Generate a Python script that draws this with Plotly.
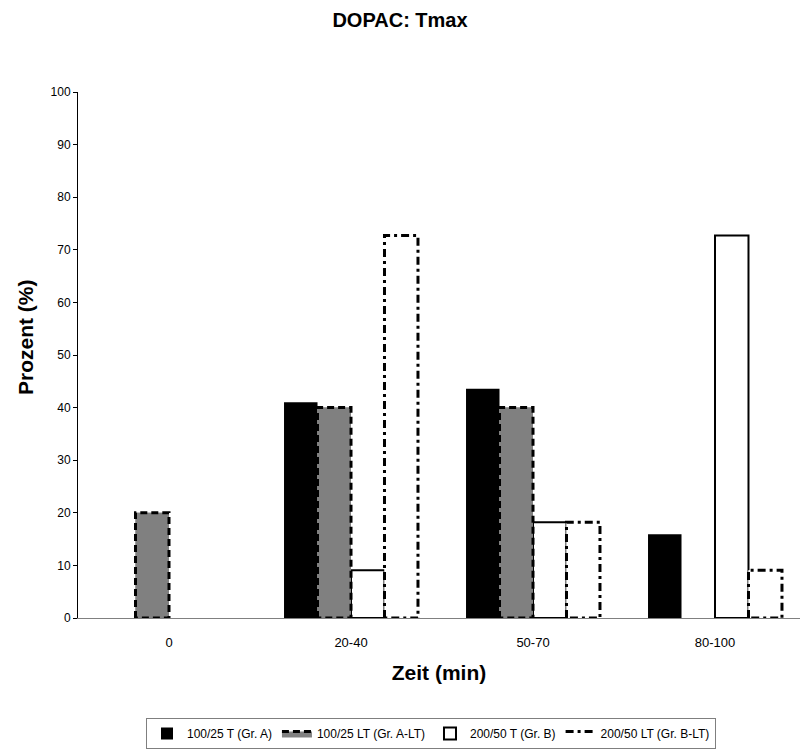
import plotly.graph_objects as go

categories = ["0", "20-40", "50-70", "80-100"]
series_names = ["100/25 T (Gr. A)", "100/25 LT (Gr. A-LT)", "200/50 T (Gr. B)", "200/50 LT (Gr. B-LT)"]
vals_a = [0, 41.0, 43.6, 15.9]
vals_alt = [20.0, 40.0, 40.0, 0]
vals_b = [0, 9.1, 18.2, 72.7]
vals_blt = [0, 72.7, 18.2, 9.1]

all_vals = [vals_a, vals_alt, vals_b, vals_blt]
fills = ["#000000", "#808080", "#ffffff", "#ffffff"]
line_w = [0, 0, 2, 0]
dashes = [None, "7px,4px", None, "8px,4px,3px,4px"]

FONT = "Arial, Liberation Sans, sans-serif"
n = len(all_vals)
bargap = 0.264
bw = (1 - bargap) / n
xs = list(range(len(categories)))

fig = go.Figure()
for i, vals in enumerate(all_vals):
    offset = -(1 - bargap) / 2 + i * bw
    yv = [v if v else None for v in vals]
    fig.add_trace(go.Bar(
        x=xs, y=yv, width=bw, offset=offset, name=series_names[i],
        marker=dict(color=fills[i], line=dict(color="#000000", width=line_w[i])),
        showlegend=dashes[i] is None, legendrank=i + 1,
    ))
    if dashes[i] is not None:
        px, py = [], []
        for xc, v in zip(xs, vals):
            if not v:
                continue
            x0 = xc + offset
            x1 = x0 + bw
            px += [x0, x0, x1, x1, x0, None]
            py += [0, v, v, 0, 0, None]
        fig.add_trace(go.Scatter(
            x=px, y=py, mode="lines", fill="toself", fillcolor=fills[i],
            line=dict(color="#000000", width=3, dash=dashes[i]),
            name=series_names[i], legendrank=i + 1, hoverinfo="skip",
        ))

plot_left = 78
plot_w = 800 - plot_left
plot_top = 92
plot_h = 526
cat_px = 182

fig.update_layout(
    width=800, height=749,
    margin=dict(l=plot_left, r=0, t=plot_top, b=749 - plot_top - plot_h),
    paper_bgcolor="white", plot_bgcolor="white",
    font=dict(family=FONT, color="#000000"),
    title=dict(text="<b>DOPAC: Tmax</b>", x=0.5, xref="container", xanchor="center",
               y=1 - 20 / 749, yanchor="middle", font=dict(size=20, family=FONT)),
    barmode="overlay",
    showlegend=True,
    legend=dict(orientation="h", x=(431 - plot_left) / plot_w, xanchor="center",
                y=-100 / plot_h, yanchor="top", bordercolor="#7f7f7f", borderwidth=1,
                font=dict(size=12, family=FONT), itemwidth=30, tracegroupgap=0,
                traceorder="normal"),
    xaxis=dict(
        tickmode="array", tickvals=xs, ticktext=categories,
        range=[-0.5, -0.5 + plot_w / cat_px],
        showgrid=False, zeroline=False,
        showline=True, linecolor="#808080", linewidth=1,
        ticks="", tickfont=dict(size=13, family=FONT), ticklabelstandoff=12,
        title=dict(text="<b>Zeit (min)</b>", font=dict(size=21, family=FONT), standoff=16),
    ),
    yaxis=dict(
        range=[0, 100], dtick=10, showgrid=False, zeroline=False,
        showline=True, linecolor="#000000", linewidth=1,
        ticks="outside", ticklen=4, tickcolor="#000000",
        tickfont=dict(size=12, family=FONT),
    ),
    annotations=[dict(
        text="<b>Prozent (%)</b>", xref="paper", yref="paper",
        x=-(plot_left - 25) / plot_w, y=(plot_top + plot_h - 337) / plot_h,
        xanchor="center", yanchor="middle", textangle=-90, showarrow=False,
        font=dict(size=21, family=FONT),
    )],
)

# category boundary tick marks on the x-axis
fig.add_trace(go.Scatter(
    x=sum([[b, b, None] for b in [0.5, 1.5, 2.5]], []),
    y=sum([[0, -0.8, None] for _ in range(3)], []),
    mode="lines", line=dict(color="#000000", width=1), showlegend=False,
    hoverinfo="skip", cliponaxis=False,
))

fig.write_html("out.html")
